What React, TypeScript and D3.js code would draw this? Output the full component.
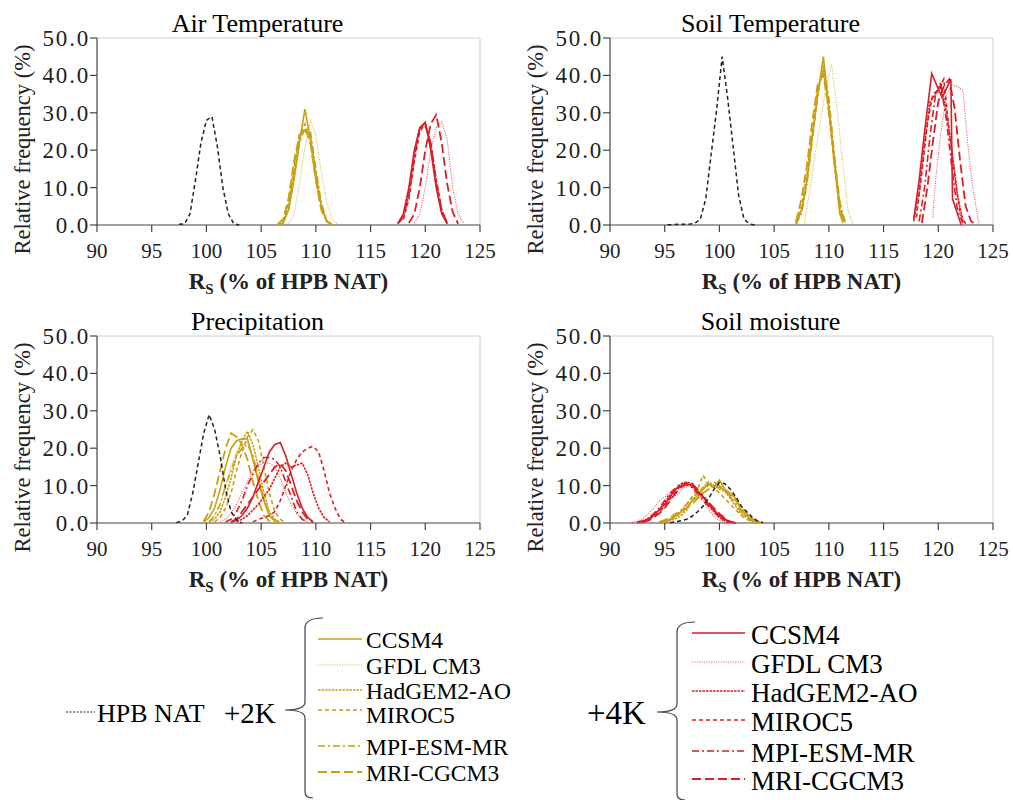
import React from 'react';
import * as d3 from 'd3';

type Pt = [number, number];

// legend / series names
const models = ['CCSM4', 'GFDL CM3', 'HadGEM2-AO', 'MIROC5', 'MPI-ESM-MR', 'MRI-CGCM3'];
const panelTitles = ['Air Temperature', 'Soil Temperature', 'Precipitation', 'Soil moisture'];
const xTicks = [90, 95, 100, 105, 110, 115, 120, 125];
const yTicks = [0, 10, 20, 30, 40, 50];

// ---- Air temperature ----
const airNat: Pt[] = [[97.5,0.2],[98,0.3],[98.5,3],[99,12],[99.5,22],[100,28],[100.5,29],[101,21],[101.5,10],[102,3],[102.5,0.3],[103,0]];
const air2K: Pt[][] = [
  [[106.5,0],[107,0.5],[107.5,4],[108,12],[108.5,22],[109,31],[109.5,23],[110,13],[110.5,5],[111,1],[111.5,0]],
  [[107.5,0.3],[108,3],[108.5,11],[109,21],[109.5,28],[110,24],[110.5,14],[111,6],[111.5,1.5],[112,0.2]],
  [[107,0.8],[107.5,5],[108,14],[108.5,24],[109,25],[109.5,24],[110,14],[110.5,5],[111,1],[111.5,0]],
  [[107,1],[107.5,6],[108,15],[108.5,24],[109,27],[109.5,22],[110,12],[110.5,4],[111,1],[111.5,0]],
  [[107,0.5],[107.5,4],[108,13],[108.5,22],[109,26],[109.5,25],[110,15],[110.5,6],[111,1.2],[111.5,0]],
  [[106.5,0.2],[107,1.5],[107.5,7],[108,17],[108.5,24],[109,26],[109.5,22],[110,12],[110.5,4],[111,1],[111.5,0]],
];
const air4K: Pt[][] = [
  [[117.5,0.5],[118,3],[118.5,10],[119,20],[119.5,26],[120,27.5],[120.5,20],[121,10],[121.5,3],[122,0.3]],
  [[119,0.5],[119.5,3],[120,10],[120.5,20],[121,26],[121.5,27.5],[122,23],[122.5,10],[123,3],[123.5,0.5]],
  [[117.5,0.3],[118,2.5],[118.5,9],[119,19],[119.5,26],[120,27],[120.5,21],[121,11],[121.5,3.5],[122,0.5]],
  [[118,1.5],[118.5,7],[119,17],[119.5,25],[120,27],[120.5,22],[121,12],[121.5,4],[122,0.6]],
  [[117.5,0.4],[118,2],[118.5,8],[119,18],[119.5,26],[120,26.5],[120.5,22],[121,12],[121.5,4],[122,0.5]],
  [[118.5,0.5],[119,3],[119.5,10],[120,20],[120.5,27],[121,29.5],[121.5,22],[122,11],[122.5,3.5],[123,0.3]],
];

// ---- Soil temperature ----
const soilTNat: Pt[] = [[95.25,0.1],[95.75,0.1],[96.25,0.2],[96.75,0.2],[97.25,0.2],[97.75,0.5],[98.25,1.5],[98.75,7],[99.25,19],[99.75,31],[100.25,45],[100.75,34],[101.25,21],[101.75,8],[102.25,1.5],[102.75,0.3],[103.25,0]];
const soilT2K: Pt[][] = [
  [[107,0.2],[107.5,4],[108,12],[108.5,24],[109,35],[109.5,45],[110,31],[110.5,17],[111,3],[111.3,0.5]],
  [[107.75,0.5],[108.25,9],[108.75,19],[109.25,28],[109.75,37],[110.25,43],[110.75,31],[111.25,17],[111.75,4],[112.25,0]],
  [[107,0.5],[107.5,4],[108,12],[108.5,24],[109,36],[109.5,42],[110,32],[110.5,18],[111,5],[111.5,0.5]],
  [[107,0.8],[107.5,5],[108,14],[108.5,26],[109,37],[109.5,41],[110,30],[110.5,16],[111,4],[111.5,0.3]],
  [[107,0.3],[107.5,3],[108,11],[108.5,23],[109,35],[109.5,43],[110,34],[110.5,19],[111,6],[111.5,0.8]],
  [[107,1],[107.5,7],[108,16],[108.5,28],[109,38],[109.5,40],[110,31],[110.5,17],[111,6],[111.3,1]],
];
const soilT4K: Pt[][] = [
  [[117.75,1.5],[118.25,12],[118.75,25],[119.4,40.5],[120.35,34],[121.15,39],[121.3,7],[122.1,0]],
  [[119.5,2],[119.75,12],[120.25,25],[120.75,35],[121.25,37.5],[121.75,37],[122.25,36],[122.75,20],[123.1,11],[123.7,0.5]],
  [[117.75,1],[118.25,9],[118.75,22],[119.25,33],[119.75,35],[120.25,38],[120.75,30],[121.25,20],[121.75,8],[122.25,1]],
  [[118,2],[118.5,14],[119,27],[119.5,35],[120,36],[120.5,39],[121,25],[121.5,13],[122,3],[122.5,0.3]],
  [[118.25,1],[118.75,10],[119.25,24],[119.75,35],[120.25,37],[120.75,28],[121.25,15],[121.75,4],[122.25,0.5]],
  [[118.5,0.5],[119,10],[119.5,22],[120,33],[120.5,37],[121,39],[121.5,31],[122,17],[122.5,5],[123,1],[123.5,0]],
];

// ---- Precipitation ----
const precNat: Pt[] = [[97.25,0.1],[97.75,0.5],[98.25,2],[98.75,8],[99.25,16],[99.75,24],[100.25,29],[100.75,25],[101.25,18],[101.75,9],[102.25,3],[102.75,0.8],[103.25,0]];
const prec2K: Pt[][] = [
  [[99.75,0.2],[100.25,1.5],[100.75,4],[101.25,9],[101.75,15],[102.25,20],[102.75,22],[103.25,22.5],[103.75,22.5],[104.25,17],[104.75,11],[105.25,6],[105.75,2],[106.25,0.5],[106.75,0]],
  [[100.25,0.3],[100.75,2],[101.25,5],[101.75,10],[102.25,15],[102.75,19],[103.25,21],[103.75,21.5],[104.25,18],[104.75,12],[105.25,7],[105.75,3],[106.25,0.8],[106.75,0]],
  [[100.25,0.2],[100.75,1],[101.25,3],[101.75,7],[102.25,12],[102.75,18],[103.25,22],[103.75,24.5],[104.25,21],[104.75,15],[105.25,8],[105.75,3],[106.25,1],[106.75,0.2]],
  [[100.75,0.3],[101.25,1.5],[101.75,4],[102.25,8],[102.75,14],[103.25,19],[103.75,23],[104.25,25],[104.75,22],[105.25,15],[105.75,8],[106.25,3],[106.75,1],[107.25,0]],
  [[100.25,0.3],[100.75,2],[101.25,5],[101.75,10],[102.25,14],[102.75,18],[103.25,20],[103.75,21],[104.25,18],[104.75,12],[105.25,6],[105.75,2],[106.25,0.5]],
  [[99.75,0.5],[100.25,3],[100.75,8],[101.25,14],[101.75,20],[102.25,24],[102.75,23],[103.25,21],[103.75,17],[104.25,11],[104.75,6],[105.25,2],[105.75,0.5],[106.25,0]],
];
const prec4K: Pt[][] = [
  [[102.25,0.2],[102.75,0.8],[103.25,2],[103.75,4],[104.25,7],[104.75,11],[105.25,15],[105.75,19],[106.25,21],[106.75,21.5],[107.25,18],[107.75,13],[108.25,8],[108.75,4],[109.25,1.5],[109.75,0.3]],
  [[101.25,0.3],[101.75,1],[102.25,2.5],[102.75,5],[103.25,8],[103.75,11],[104.25,14],[104.75,15.5],[105.25,16],[105.75,16],[106.25,15],[106.75,12],[107.25,8],[107.75,5],[108.25,2.5],[108.75,1],[109.25,0.2]],
  [[102.75,0.3],[103.25,1],[103.75,2],[104.25,3.5],[104.75,5],[105.25,7],[105.75,9],[106.25,12],[106.75,15],[107.25,16],[107.75,15],[108.25,15.5],[108.75,16],[109.25,13],[109.75,8],[110.25,4],[110.75,1.5],[111.25,0.3]],
  [[104.25,0.3],[104.75,1],[105.25,1.5],[105.75,2],[106.25,3],[106.75,6],[107.25,10],[107.75,14],[108.25,17],[108.75,19],[109.25,20],[109.75,20.5],[110.25,19],[110.75,14],[111.25,8],[111.75,4],[112.25,1],[112.75,0]],
  [[101.75,0.3],[102.25,1],[102.75,3],[103.25,6],[103.75,10],[104.25,13],[104.75,16],[105.25,17.5],[105.75,17.5],[106.25,17],[106.75,15],[107.25,11],[107.75,7],[108.25,3],[108.75,1],[109.25,0.2]],
  [[102.25,0.3],[102.75,1],[103.25,3],[103.75,5],[104.25,7],[104.75,9],[105.25,11],[105.75,13],[106.25,15],[106.75,15.8],[107.25,14],[107.75,10],[108.25,6],[108.75,3],[109.25,1],[109.75,0.2]],
];

// ---- Soil moisture ----
const smNat: Pt[] = [[95.5,0.1],[96,0.3],[96.5,0.6],[97,1],[97.5,1.8],[98,3],[98.5,4.5],[99,6.5],[99.5,9],[100,10.8],[100.5,10.5],[101,9],[101.5,7],[102,4.5],[102.5,3],[103,1.5],[103.5,0.5],[104,0.1]];
const sm2K: Pt[][] = [
  [[94.5,0.2],[95,0.5],[95.5,1],[96,2],[96.5,3],[97,4],[97.5,6],[98,7],[98.5,9],[99,10.5],[99.5,9.5],[100,11.5],[100.5,9],[101,8],[101.5,6.5],[102,3.5],[102.5,2],[103,1],[103.5,0.3],[104,0]],
  [[95,0.3],[95.5,0.8],[96,1.5],[96.5,2.5],[97,4],[97.5,5.5],[98,7],[98.5,9],[99,10],[99.5,10.5],[100,10],[100.5,9],[101,7.5],[101.5,5.5],[102,3.5],[102.5,2],[103,0.8],[103.5,0.2]],
  [[95,0.2],[95.5,0.6],[96,1.2],[96.5,2],[97,3.5],[97.5,6],[98,8],[98.5,9.5],[99,11],[99.5,10],[100,9],[100.5,8.5],[101,6.5],[101.5,4.5],[102,2.5],[102.5,1.5],[103,0.5],[103.5,0.1]],
  [[95,0.3],[95.5,0.8],[96,1.5],[96.5,3],[97,5],[97.5,7],[98,9],[98.5,12.8],[99,10],[99.5,9.5],[100,8],[100.5,6.5],[101,5],[101.5,3.5],[102,2],[102.5,1],[103,0.3],[103.5,0]],
  [[94.5,0.2],[95,0.5],[95.5,1],[96,2],[96.5,3.5],[97,5],[97.5,6.5],[98,8],[98.5,9.5],[99,10],[99.5,11],[100,10],[100.5,8.5],[101,7],[101.5,5],[102,3],[102.5,1.5],[103,0.5],[103.5,0.1]],
  [[94.5,0.3],[95,0.8],[95.5,1.5],[96,2.5],[96.5,3],[97,4],[97.5,5],[98,6.5],[98.5,8],[99,9],[99.5,10],[100,9.5],[100.5,8.5],[101,7.5],[101.5,6],[102,4],[102.5,2.5],[103,1.2],[103.5,0.4],[104,0]],
];
const sm4K: Pt[][] = [
  [[92.5,0.1],[93,0.4],[93.5,1],[94,2],[94.5,3.5],[95,5],[95.5,7],[96,9],[96.5,10],[97,10.5],[97.5,10],[98,8.5],[98.5,7],[99,5],[99.5,3.5],[100,2],[100.5,1],[101,0.3],[101.5,0]],
  [[92,0.1],[92.5,0.5],[93,1.2],[93.5,2.5],[94,4],[94.5,6],[95,7],[95.3,7.8],[95.8,7],[96.3,8],[96.8,9.5],[97.3,10],[97.8,9],[98.3,7],[98.8,4.5],[99.3,2.5],[99.8,1],[100.3,0.3],[100.8,0]],
  [[92.5,0.2],[93,0.5],[93.5,1.2],[94,2.2],[94.5,3.5],[95,5.5],[95.5,7.5],[96,9],[96.5,10.5],[97,11],[97.5,10.5],[98,8.5],[98.5,7],[99,5],[99.5,3],[100,1.5],[100.5,0.6],[101,0.2]],
  [[93,0.3],[93.5,0.8],[94,1.8],[94.5,3],[95,4.5],[95.5,6.5],[96,8.5],[96.5,10],[97,10.8],[97.5,10],[98,8],[98.5,7.5],[99,5.5],[99.5,3.5],[100,2],[100.5,1],[101,0.3]],
  [[92.5,0.2],[93,0.6],[93.5,1.3],[94,2.5],[94.5,4],[95,6],[95.5,8],[96,9.5],[96.5,10.5],[97,10.2],[97.5,9.5],[98,8],[98.5,6],[99,4.5],[99.5,3],[100,1.5],[100.5,0.5],[101,0.1]],
  [[93,0.2],[93.5,0.6],[94,1.5],[94.5,2.5],[95,4],[95.5,6],[96,8],[96.5,9.5],[97,10.5],[97.5,10.5],[98,9],[98.5,7],[99,5.5],[99.5,4],[100,2.5],[100.5,1.2],[101,0.4],[101.5,0]],
];

const GOLD = '#C9A013';
const RED = '#DC1E26';
const FONT = 'Liberation Serif, Times New Roman, serif';

const lineStyles = [
  { dash: undefined as string | undefined, w: 1.6 },
  { dash: '1,1.4', w: 1.1 },
  { dash: '2.5,1', w: 1.6 },
  { dash: '4,3', w: 1.6 },
  { dash: '7,3,2,3', w: 1.6 },
  { dash: '9,4', w: 1.8 },
];

const PW = 383;
const PH = 187;

function Panel({ left, top, idx, nat, k2, k4 }: { left: number; top: number; idx: number; nat: Pt[]; k2: Pt[][]; k4: Pt[][] }) {
  const x = d3.scaleLinear().domain([90, 125]).range([0, PW]);
  const y = d3.scaleLinear().domain([0, 50]).range([PH, 0]);
  const line = d3.line<Pt>().x((d) => x(d[0])).y((d) => y(d[1]));
  const fmt = d3.format('.1f');
  return (
    <g transform={`translate(${left},${top})`} style={{ fontFamily: FONT }}>
      <text x={PW / 2 - 31} y={-6} textAnchor="middle" fontSize={26} fill="#000">{panelTitles[idx]}</text>
      <line x1={0} x2={PW} y1={0} y2={0} stroke="#d0d0d0" />
      <line x1={PW} x2={PW} y1={0} y2={PH} stroke="#d0d0d0" />
      {yTicks.map((t) => (
        <g key={t} transform={`translate(0,${y(t)})`}>
          <line x1={-7} x2={0} stroke="#444" strokeWidth={1.2} />
          <text x={-7} dy="0.35em" textAnchor="end" fontSize={23} letterSpacing={1.8} fill="#222">{fmt(t)}</text>
        </g>
      ))}
      {xTicks.map((t) => (
        <g key={t} transform={`translate(${x(t)},${PH})`}>
          <line y1={0} y2={7} stroke="#444" strokeWidth={1.2} />
          <text y={33} textAnchor="middle" fontSize={21} fill="#222">{t}</text>
        </g>
      ))}
      <line x1={0} x2={0} y1={0} y2={PH} stroke="#444" strokeWidth={1.2} />
      <line x1={0} x2={PW} y1={PH} y2={PH} stroke="#444" strokeWidth={1.2} />
      <text transform={`translate(-67,${PH / 2 + 18}) rotate(-90)`} textAnchor="middle" fontSize={22.5} fill="#222">Relative frequency (%)</text>
      <text x={PW / 2} y={PH + 64} textAnchor="middle" fontSize={23} fontWeight="bold" fill="#222">
        R<tspan fontSize={15} dy={5}>S</tspan><tspan dy={-5}> (% of HPB NAT)</tspan>
      </text>
      {k2.map((s, i) => (
        <path key={'g' + i} d={line(s) || ''} fill="none" stroke={GOLD} strokeWidth={lineStyles[i].w} strokeDasharray={lineStyles[i].dash} opacity={i === 1 ? 0.75 : 1} />
      ))}
      {k4.map((s, i) => (
        <path key={'r' + i} d={line(s) || ''} fill="none" stroke={RED} strokeWidth={lineStyles[i].w} strokeDasharray={lineStyles[i].dash} opacity={i === 1 ? 0.75 : 1} />
      ))}
      <path d={line(nat) || ''} fill="none" stroke="#222" strokeWidth={1.5} strokeDasharray="4,3" />
    </g>
  );
}

function Brace({ x, top, bottom, tipY }: { x: number; top: number; bottom: number; tipY: number }) {
  const p = d3.path();
  p.moveTo(x + 18, top);
  p.quadraticCurveTo(x, top, x, top + 10);
  p.lineTo(x, tipY - 8);
  p.quadraticCurveTo(x, tipY, x - 20, tipY);
  p.moveTo(x - 20, tipY);
  p.quadraticCurveTo(x, tipY, x, tipY + 8);
  p.lineTo(x, bottom - 6);
  p.quadraticCurveTo(x, bottom, x + 8, bottom);
  return <path d={p.toString()} fill="none" stroke="#444" strokeWidth={1.2} />;
}

function Legend() {
  const rows2 = [639, 665, 690, 710, 746, 772];
  const rows4 = [633, 662, 691, 720, 751, 779];
  return (
    <g style={{ fontFamily: FONT }} fill="#000">
      <line x1={66} x2={95} y1={712} y2={712} stroke="#222" strokeWidth={1.2} strokeDasharray="2,1.5" />
      <text x={97} y={722} fontSize={26}>HPB NAT</text>
      <text x={224} y={723} fontSize={29}>+2K</text>
      <Brace x={305} top={618} bottom={798} tipY={710} />
      {models.map((m, i) => (
        <g key={'l2' + i}>
          <line x1={318} x2={362} y1={rows2[i]} y2={rows2[i]} stroke={GOLD} strokeWidth={lineStyles[i].w} strokeDasharray={lineStyles[i].dash} opacity={i === 1 ? 0.75 : 1} />
          <text x={366} y={rows2[i] + (i === 3 ? 13 : 9)} fontSize={23.5}>{m}</text>
        </g>
      ))}
      <text x={587} y={724} fontSize={33}>+4K</text>
      <Brace x={677} top={622} bottom={800} tipY={712} />
      {models.map((m, i) => (
        <g key={'l4' + i}>
          <line x1={692} x2={745} y1={rows4[i]} y2={rows4[i]} stroke={RED} strokeWidth={lineStyles[i].w} strokeDasharray={lineStyles[i].dash} opacity={i === 1 ? 0.75 : 1} />
          <text x={751} y={rows4[i] + 11} fontSize={27}>{m}</text>
        </g>
      ))}
    </g>
  );
}

export default function App() {
  const data = [
    { nat: airNat, k2: air2K, k4: air4K, left: 97, top: 38 },
    { nat: soilTNat, k2: soilT2K, k4: soilT4K, left: 610, top: 38 },
    { nat: precNat, k2: prec2K, k4: prec4K, left: 97, top: 336 },
    { nat: smNat, k2: sm2K, k4: sm4K, left: 610, top: 336 },
  ];
  return (
    <svg width={1013} height={800} style={{ position: 'absolute', left: 0, top: 0, background: '#fff' }}>
      <rect width={1013} height={800} fill="#fff" />
      {data.map((d, i) => (
        <Panel key={i} idx={i} {...d} />
      ))}
      <Legend />
    </svg>
  );
}
